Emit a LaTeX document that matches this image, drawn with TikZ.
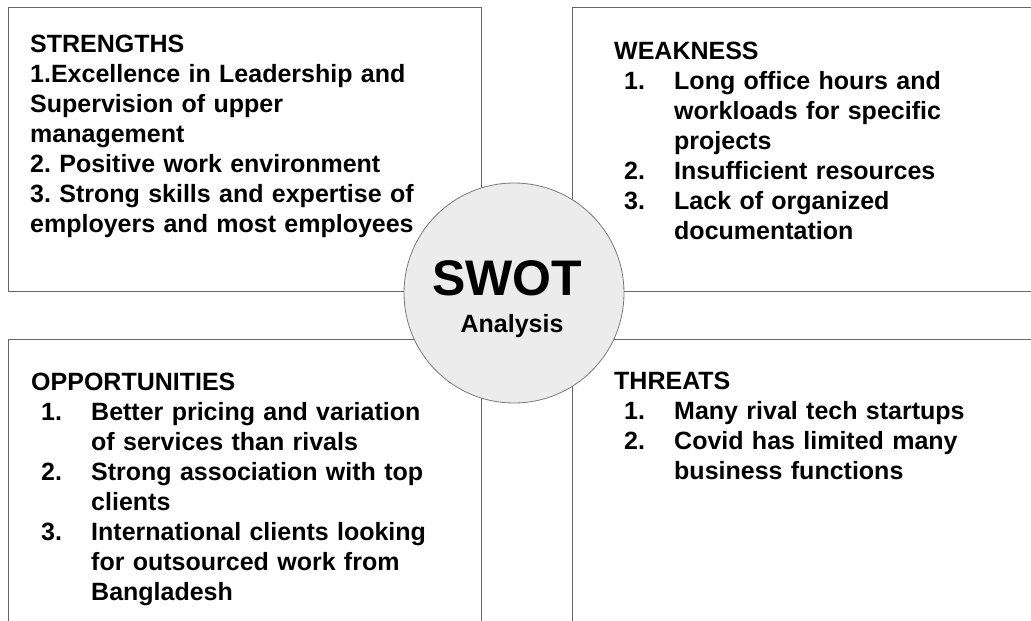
\documentclass[tikz,border=0pt]{standalone}
\usepackage{fontspec}
\setmainfont{Liberation Sans}
\usepackage{tikz}
\definecolor{edgec}{HTML}{666666}
\definecolor{hubedge}{HTML}{7A7A7A}
\definecolor{hubbg}{HTML}{ECECEC}
% numbered entry with hanging indent
\newcommand{\swotitem}[2]{\par\hangindent=60pt\hangafter=1\noindent
  \makebox[60pt][l]{\hspace{10pt}#1}#2\par}

\begin{document}
\begin{tikzpicture}[x=1pt,y=-1pt,
  quad/.style={draw=edgec,line width=1pt,inner sep=0pt,anchor=north west},
  txt/.style={anchor=base west,inner sep=0pt,text width=440pt,align=left,
              font=\fontsize{25}{30}\selectfont\bfseries\frenchspacing},
  hub/.style={circle,draw=hubedge,fill=hubbg,line width=0.8pt,
              minimum size=220pt,inner sep=0pt},
]
\useasboundingbox (0,0) rectangle (1031,621);
\clip (0,0) rectangle (1031,621);

% the four quadrants
\node[quad,minimum width=473pt,minimum height=284pt] (sq) at (8,7) {};
\node[quad,minimum width=480pt,minimum height=284pt] (wq) at (572,7) {};
\node[quad,minimum width=473pt,minimum height=300pt] (oq) at (8,339) {};
\node[quad,minimum width=480pt,minimum height=300pt] (tq) at (572,339) {};

% centre disc
\node[hub] (hub) at (514,293) {};
\node[anchor=base,inner sep=0pt,font=\fontsize{50}{50}\selectfont\bfseries]
  (swot) at (507,295) {SWOT};
\node[anchor=base,inner sep=0pt,font=\fontsize{25}{30}\selectfont\bfseries]
  (ana) at (512,332) {Analysis};

\node[txt] (stext) at (30,52) {STRENGTHS\\
  1.Excellence in Leadership and\\
  Supervision of upper\\
  management\\
  2. Positive work environment\\
  3. Strong skills and expertise of\\
  employers and most employees};

\node[txt] (wtext) at (614,59) {WEAKNESS
  \swotitem{1.}{Long office hours and\newline workloads for specific\newline projects}
  \swotitem{2.}{Insufficient resources}
  \swotitem{3.}{Lack of organized\newline documentation}};

\node[txt] (otext) at (31,390) {OPPORTUNITIES
  \swotitem{1.}{Better pricing and variation\newline of services than rivals}
  \swotitem{2.}{Strong association with top\newline clients}
  \swotitem{3.}{International clients looking\newline for outsourced work from\newline Bangladesh}};

\node[txt] (ttext) at (614,389) {THREATS
  \swotitem{1.}{Many rival tech startups}
  \swotitem{2.}{Covid has limited many\newline business functions}};
\end{tikzpicture}
\end{document}
